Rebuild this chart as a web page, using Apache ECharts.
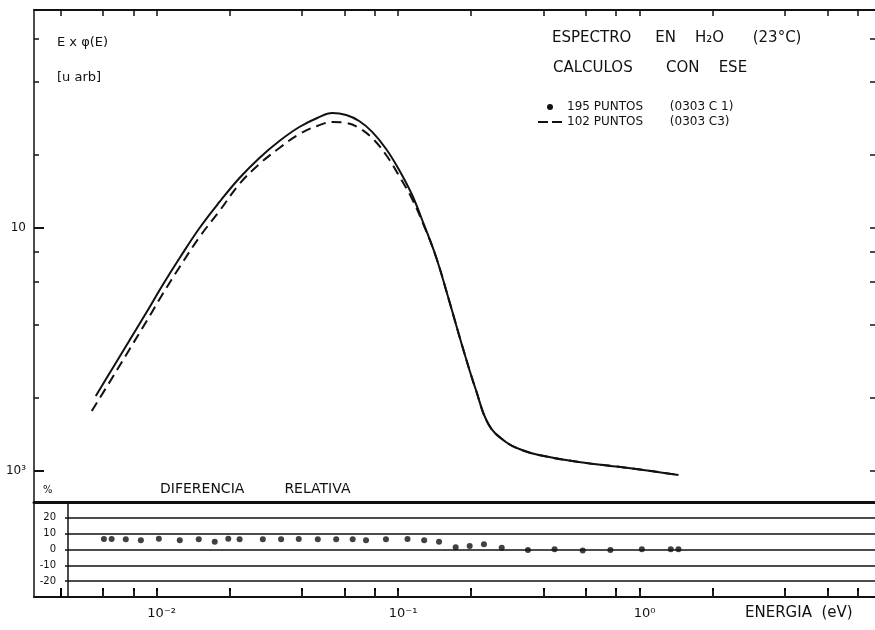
<!DOCTYPE html>
<html>
<head>
<meta charset="utf-8">
<script src="https://cdn.jsdelivr.net/npm/echarts@6/dist/echarts.min.js"></script>
<style>
  html, body { margin: 0; padding: 0; background: #fff; }
  #chart { width: 875px; height: 630px; }
</style>
</head>
<body>
<div id="chart"></div>
<script>
// curva de 195 puntos (0303 C 1): energia (eV) y E x phi(E)
var solidE = [0.005596, 0.006579, 0.007735, 0.009093, 0.01059, 0.01245, 0.01505, 0.01820, 0.02203, 0.02664,
  0.03222, 0.03898, 0.04626, 0.05338, 0.06097, 0.06899, 0.07808, 0.08920, 0.1010, 0.1143, 0.1281, 0.1436,
  0.1624, 0.1838, 0.2100, 0.2377, 0.2794, 0.3254, 0.3825, 0.5596, 0.9005, 1.449];
var solidV = [2035, 2654, 3460, 4512, 5828, 7523, 10000, 12794, 16060, 19420,
  22800, 26040, 28360, 29740, 29170, 27560, 24850, 21140, 17330, 13670, 10290, 7596,
  5054, 3301, 2154, 1546, 1316, 1220, 1164, 1089, 1029, 963];

// curva de 102 puntos (0303 C3)
var dashE = [0.005387, 0.006579, 0.007735, 0.009093, 0.01059, 0.01245, 0.01505, 0.01820, 0.02203, 0.02664,
  0.03222, 0.03898, 0.04626, 0.05338, 0.06097, 0.06899, 0.07808, 0.08920, 0.1010, 0.1143, 0.1281, 0.1436,
  0.1624, 0.1838, 0.2100, 0.2377, 0.2794, 0.3254, 0.3825, 0.5596, 0.9005, 1.449];
var dashV = [1766, 2437, 3177, 4143, 5351, 6910, 9183, 11750, 15180, 18340,
  21340, 24370, 26300, 27310, 27050, 25790, 23460, 19970, 16370, 13160, 10190, 7596,
  5054, 3301, 2154, 1546, 1316, 1220, 1164, 1089, 1029, 963];

// diferencia relativa (%)
var diffE = [0.00604, 0.00650, 0.00744, 0.00859, 0.0102, 0.01245, 0.01492, 0.01738, 0.01978, 0.02203,
  0.02749, 0.03273, 0.03873, 0.04645, 0.05534, 0.06478, 0.07356, 0.08898, 0.1093, 0.1281, 0.1476,
  0.173, 0.1977, 0.2265, 0.2684, 0.3446, 0.4443, 0.5812, 0.7566, 1.022, 1.346, 1.448];
var diffPct = [6.6, 6.6, 6.4, 5.9, 6.8, 5.9, 6.4, 4.9, 6.8, 6.4,
  6.4, 6.4, 6.6, 6.4, 6.4, 6.4, 5.9, 6.4, 6.6, 5.9, 4.9,
  1.4, 2.2, 3.3, 1.1, -0.3, 0.1, -0.7, -0.3, 0.1, 0.1, 0.1];

// marcas de los ejes
var xTickVals = [0.004, 0.006, 0.008, 0.01, 0.02, 0.04, 0.06, 0.08, 0.1, 0.2, 0.4, 0.6, 0.8, 1, 2, 4, 6, 8];
var xLabelVals = [0.01, 0.1, 1];
var xLabelText = ['10⁻²', '10⁻¹', '10⁰'];
var yTickVals = [2000, 4000, 6000, 8000, 20000, 40000, 60000];
var yLabelVals = [1000, 10000];
var yLabelText = ['10³', '10'];

var solidName = '195 PUNTOS       (0303 C 1)';
var dashName = '102 PUNTOS       (0303 C3)';

var L = Math.log10;
var ink = '#111';
var font = 'DejaVu Sans';

function pairs(xs, ys, fy) {
  return xs.map(function (x, i) { return [L(x), fy ? L(ys[i]) : ys[i]]; });
}
function labelFrom(vals, texts) {
  return function (v) {
    for (var i = 0; i < vals.length; i++) {
      if (Math.abs(L(vals[i]) - v) < 1e-6) return texts[i];
    }
    return '';
  };
}
function line(w) {
  return { show: true, onZero: false, lineStyle: { color: ink, width: w } };
}
function ticks(vals, len, w, c) {
  return { show: true, inside: true, length: len, customValues: vals.map(L), lineStyle: { color: c || ink, width: w } };
}
function noLine() { return { show: false, onZero: false }; }
function off() { return { show: false }; }

var xMin = -2.508, xMax = 0.975;
var yMin = 2.8724, yMax = 4.8971;

var chart = echarts.init(document.getElementById('chart'));
chart.setOption({
  animation: false,
  backgroundColor: '#fff',
  textStyle: { fontFamily: font, color: ink },
  grid: [
    { left: 34, right: 0, top: 10, bottom: 128 },
    { left: 34, right: 0, top: 502, bottom: 33 },
    { left: 68, right: 0, top: 502, bottom: 33 }
  ],
  xAxis: [
    {
      // borde superior del grafico principal
      type: 'value', gridIndex: 0, position: 'top', min: xMin, max: xMax,
      axisLine: line(2), axisTick: ticks(xTickVals, 6, 1.5), axisLabel: off(), splitLine: off()
    },
    {
      // eje de energia: linea y marcas
      type: 'value', gridIndex: 1, position: 'bottom', min: xMin, max: xMax,
      axisLine: line(2), axisTick: ticks(xTickVals, 9, 2, '#000'), axisLabel: off(), splitLine: off()
    },
    {
      // eje de energia: rotulos
      type: 'value', gridIndex: 1, position: 'bottom', min: xMin, max: xMax,
      axisLine: noLine(), axisTick: off(), splitLine: off(),
      axisLabel: {
        show: true, customValues: xLabelVals.map(L), formatter: labelFrom(xLabelVals, xLabelText),
        color: ink, fontSize: 13, fontFamily: font, margin: 10, padding: [0, 0, 0, 10]
      }
    },
    {
      // linea gruesa superior del panel de diferencias
      type: 'value', gridIndex: 1, position: 'top', min: xMin, max: xMax,
      axisLine: line(3), axisTick: off(), axisLabel: off(), splitLine: off()
    },
    {
      // marcas del eje de energia dentro del panel interior
      type: 'value', gridIndex: 2, position: 'bottom', min: -2.3678, max: xMax,
      axisLine: noLine(), axisTick: ticks(xTickVals, 6, 2, '#222'), axisLabel: off(), splitLine: off()
    }
  ],
  yAxis: [
    {
      type: 'value', gridIndex: 0, position: 'left', min: yMin, max: yMax,
      axisLine: line(1.5), axisTick: ticks(yLabelVals, 10, 2), splitLine: off(),
      axisLabel: {
        show: true, customValues: yLabelVals.map(L), formatter: labelFrom(yLabelVals, yLabelText),
        color: ink, fontSize: 12, fontFamily: font, margin: 8
      }
    },
    {
      type: 'value', gridIndex: 0, position: 'left', min: yMin, max: yMax,
      axisLine: noLine(), axisTick: ticks(yTickVals, 5, 1.5), axisLabel: off(), splitLine: off()
    },
    {
      // marcas del borde derecho (el borde queda fuera de la imagen)
      type: 'value', gridIndex: 0, position: 'right', min: yMin, max: yMax,
      axisLine: noLine(), axisTick: ticks(yTickVals.concat(yLabelVals), 5, 1.5), axisLabel: off(), splitLine: off()
    },
    {
      type: 'value', gridIndex: 1, position: 'left', min: -30, max: 30,
      axisLine: line(1.5), axisTick: off(), axisLabel: off(), splitLine: off()
    },
    {
      // diferencia relativa en %
      type: 'value', gridIndex: 2, position: 'left', min: -30, max: 30, interval: 10,
      axisLine: line(1.5),
      axisTick: { show: true, length: 3, lineStyle: { color: ink, width: 1.5 } },
      axisLabel: {
        show: true, color: ink, fontSize: 10, fontFamily: font, margin: 12,
        formatter: function (v) { return Math.abs(v) === 30 ? '' : String(v); }
      },
      splitLine: { show: true, lineStyle: { color: ink, width: 1.5 } }
    }
  ],
  legend: {
    orient: 'vertical', left: 533, top: 96, itemWidth: 24, itemHeight: 6, itemGap: 3,
    textStyle: { color: ink, fontSize: 12, fontFamily: font },
    data: [
      { name: solidName, icon: 'circle' },
      { name: dashName, icon: 'path://M0,0 h10 v2 h-10 z M14,0 h10 v2 h-10 z', itemStyle: { color: ink } }
    ]
  },
  series: [
    {
      name: solidName, type: 'line', xAxisIndex: 0, yAxisIndex: 0,
      data: pairs(solidE, solidV, true), smooth: 0.4, symbol: 'none',
      itemStyle: { color: ink }, lineStyle: { color: ink, width: 2 }
    },
    {
      name: dashName, type: 'line', xAxisIndex: 0, yAxisIndex: 0,
      data: pairs(dashE, dashV, true), smooth: 0.4, symbol: 'none',
      itemStyle: { color: ink }, lineStyle: { color: ink, width: 2, type: [10, 6] }
    },
    {
      name: 'diferencia', type: 'scatter', xAxisIndex: 4, yAxisIndex: 4,
      data: pairs(diffE, diffPct, false), symbolSize: 6,
      itemStyle: { color: ink }
    }
  ],
  graphic: [
    { type: 'text', left: 57, top: 36, style: { text: 'E x φ(E)', font: '13px "DejaVu Sans"', fill: ink } },
    { type: 'text', left: 57, top: 71, style: { text: '[u arb]', font: '13px "DejaVu Sans"', fill: ink } },
    { type: 'text', left: 552, top: 31, style: { text: 'ESPECTRO     EN    H₂O      (23°C)', font: '15px "DejaVu Sans"', fill: ink } },
    { type: 'text', left: 553, top: 61, style: { text: 'CALCULOS       CON    ESE', font: '15px "DejaVu Sans"', fill: ink } },
    { type: 'text', left: 43, top: 485, style: { text: '%', font: '10px "DejaVu Sans"', fill: ink } },
    { type: 'text', left: 160, top: 482, style: { text: 'DIFERENCIA         RELATIVA', font: '14px "DejaVu Sans"', fill: ink } },
    { type: 'text', left: 745, top: 606, style: { text: 'ENERGIA  (eV)', font: '15px "DejaVu Sans"', fill: ink } }
  ]
});
</script>
</body>
</html>
